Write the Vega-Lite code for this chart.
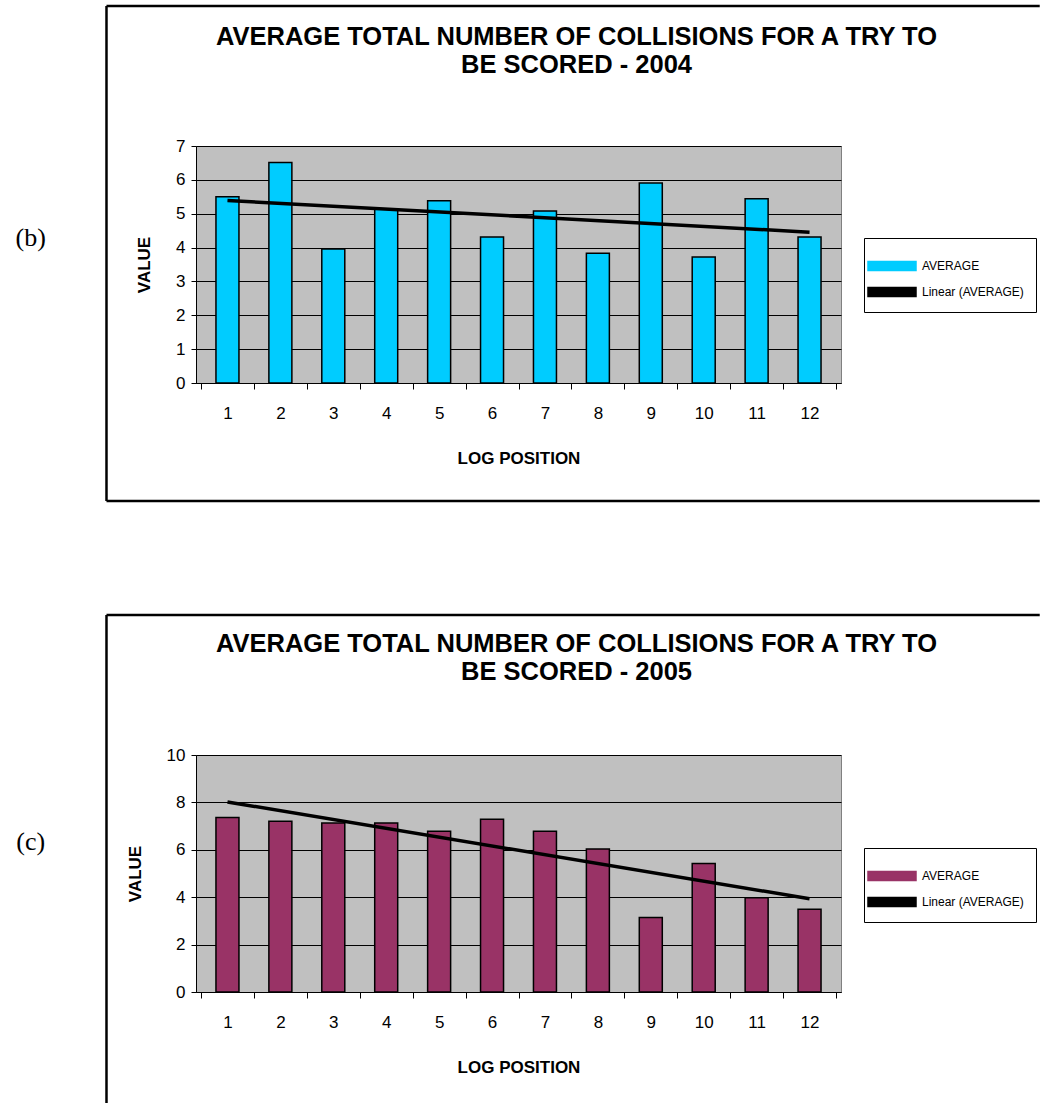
{
  "$schema": "https://vega.github.io/schema/vega-lite/v6.json",
  "padding": {"left": 15, "top": 4, "right": 0, "bottom": 0},
  "spacing": 110,
  "columns": 1,
  "resolve": {"scale": {"color": "independent"}},
  "config": {
    "font": "Liberation Sans",
    "view": {"fill": "#C0C0C0", "stroke": "#808080", "strokeWidth": 1},
    "axis": {"labelFont": "Liberation Sans", "labelColor": "black", "titleColor": "black", "titleFont": "Liberation Sans", "domainColor": "black", "tickColor": "black"},
    "legend": {"orient": "none", "title": null, "labelFont": "Liberation Sans", "labelFontSize": 12, "labelColor": "black", "strokeColor": "black", "padding": 12, "rowPadding": 2, "labelOffset": 14, "symbolSize": 900, "symbolType": "M-1.6,-0.3H1.6V0.3H-1.6Z", "symbolStrokeColor": "black", "symbolStrokeWidth": 1.5, "symbolOpacity": 1}
  },
  "datasets": {
    "d2004": [
      {"pos": 1, "value": 5.50, "series": "AVERAGE"},
      {"pos": 2, "value": 6.51, "series": "AVERAGE"},
      {"pos": 3, "value": 3.96, "series": "AVERAGE"},
      {"pos": 4, "value": 5.13, "series": "AVERAGE"},
      {"pos": 5, "value": 5.38, "series": "AVERAGE"},
      {"pos": 6, "value": 4.31, "series": "AVERAGE"},
      {"pos": 7, "value": 5.08, "series": "AVERAGE"},
      {"pos": 8, "value": 3.83, "series": "AVERAGE"},
      {"pos": 9, "value": 5.91, "series": "AVERAGE"},
      {"pos": 10, "value": 3.72, "series": "AVERAGE"},
      {"pos": 11, "value": 5.44, "series": "AVERAGE"},
      {"pos": 12, "value": 4.31, "series": "AVERAGE"}
    ],
    "d2005": [
      {"pos": 1, "value": 7.36, "series": "AVERAGE"},
      {"pos": 2, "value": 7.20, "series": "AVERAGE"},
      {"pos": 3, "value": 7.13, "series": "AVERAGE"},
      {"pos": 4, "value": 7.13, "series": "AVERAGE"},
      {"pos": 5, "value": 6.78, "series": "AVERAGE"},
      {"pos": 6, "value": 7.29, "series": "AVERAGE"},
      {"pos": 7, "value": 6.78, "series": "AVERAGE"},
      {"pos": 8, "value": 6.03, "series": "AVERAGE"},
      {"pos": 9, "value": 3.14, "series": "AVERAGE"},
      {"pos": 10, "value": 5.42, "series": "AVERAGE"},
      {"pos": 11, "value": 3.98, "series": "AVERAGE"},
      {"pos": 12, "value": 3.49, "series": "AVERAGE"}
    ]
  },
  "concat": [
    {
      "width": 645,
      "height": 237,
      "data": {"name": "d2004"},
      "title": {"text": ["AVERAGE TOTAL NUMBER OF COLLISIONS FOR A TRY TO", "BE SCORED - 2004"], "font": "Liberation Sans", "fontSize": 25.5, "fontWeight": "bold", "color": "black", "anchor": "middle", "dx": 58, "offset": -74, "lineHeight": 28},
      "resolve": {"axis": {"x": "independent", "y": "independent"}},
      "layer": [
        {
          "data": {"values": [{}]},
          "mark": {"type": "rule", "color": "black", "strokeWidth": 2.5, "clip": false},
          "encoding": {
            "x": {"datum": -1.286, "type": "quantitative", "scale": {"domain": [0.5, 12.5], "nice": false, "zero": false},
                  "axis": {"orient": "bottom", "values": [0.5, 1.5, 2.5, 3.5, 4.5, 5.5, 6.5, 7.5, 8.5, 9.5, 10.5, 11.5, 12.5], "labels": false, "ticks": true, "tickSize": 6, "domain": false, "grid": false, "title": null}},
            "y": {"datum": 11.135, "type": "quantitative", "axis": null},
            "y2": {"datum": -3.485}
          }
        },
        {
          "data": {"values": [{}]},
          "mark": {"type": "rule", "color": "black", "strokeWidth": 2.5, "clip": false},
          "encoding": {
            "x": {"datum": -1.286, "type": "quantitative", "axis": null},
            "x2": {"datum": 16.35},
            "y": {"datum": 11.135, "type": "quantitative", "axis": null}
          }
        },
        {
          "data": {"values": [{}]},
          "mark": {"type": "rule", "color": "black", "strokeWidth": 2.5, "clip": false},
          "encoding": {
            "x": {"datum": -1.286, "type": "quantitative", "axis": null},
            "x2": {"datum": 16.35},
            "y": {"datum": -3.485, "type": "quantitative", "axis": null}
          }
        },
        {
          "mark": {"type": "bar", "width": 23, "stroke": "black", "strokeWidth": 1.5},
          "encoding": {
            "x": {"field": "pos", "type": "quantitative",
                  "axis": {"orient": "bottom", "values": [1, 2, 3, 4, 5, 6, 7, 8, 9, 10, 11, 12], "ticks": false, "domain": true, "grid": false, "labelFontSize": 17, "labelPadding": 22, "title": "LOG POSITION", "titleFontSize": 17, "titleFontWeight": "bold", "titlePadding": 29}},
            "y": {"field": "value", "type": "quantitative", "scale": {"domain": [0, 7], "nice": false},
                  "axis": {"orient": "left", "values": [0, 1, 2, 3, 4, 5, 6, 7], "grid": true, "gridColor": "black", "gridWidth": 1, "gridOpacity": 1, "tickSize": 5, "labelFontSize": 17, "labelPadding": 6, "title": "VALUE", "titleFontSize": 17, "titleFontWeight": "bold", "titlePadding": 22}},
            "color": {"field": "series", "type": "nominal",
                      "scale": {"domain": ["AVERAGE", "Linear (AVERAGE)"], "range": ["#00CCFF", "black"]},
                      "legend": {"orient": "none", "legendX": 668, "legendY": 92}}
          }
        },
        {
          "transform": [{"regression": "value", "on": "pos", "extent": [1, 12]}],
          "mark": {"type": "line", "strokeWidth": 3.5},
          "encoding": {
            "x": {"field": "pos", "type": "quantitative", "axis": null},
            "y": {"field": "value", "type": "quantitative", "axis": null},
            "color": {"datum": "Linear (AVERAGE)"}
          }
        },
        {
          "data": {"values": [{"label": "(b)"}]},
          "mark": {"type": "text", "font": "Liberation Serif", "fontSize": 26, "align": "center", "baseline": "middle", "color": "black", "clip": false},
          "encoding": {
            "x": {"datum": -2.719, "type": "quantitative", "axis": null},
            "y": {"datum": 4.283, "type": "quantitative", "axis": null},
            "text": {"field": "label"}
          }
        }
      ]
    },
    {
      "width": 645,
      "height": 237,
      "data": {"name": "d2005"},
      "title": {"text": ["AVERAGE TOTAL NUMBER OF COLLISIONS FOR A TRY TO", "BE SCORED - 2005"], "font": "Liberation Sans", "fontSize": 25.5, "fontWeight": "bold", "color": "black", "anchor": "middle", "dx": 58, "offset": -72, "lineHeight": 28},
      "resolve": {"axis": {"x": "independent", "y": "independent"}},
      "layer": [
        {
          "data": {"values": [{}]},
          "mark": {"type": "rule", "color": "black", "strokeWidth": 2.5, "clip": false},
          "encoding": {
            "x": {"datum": -1.286, "type": "quantitative", "scale": {"domain": [0.5, 12.5], "nice": false, "zero": false},
                  "axis": {"orient": "bottom", "values": [0.5, 1.5, 2.5, 3.5, 4.5, 5.5, 6.5, 7.5, 8.5, 9.5, 10.5, 11.5, 12.5], "labels": false, "ticks": true, "tickSize": 6, "domain": false, "grid": false, "title": null}},
            "y": {"datum": 15.907, "type": "quantitative", "axis": null},
            "y2": {"datum": -4.75}
          }
        },
        {
          "data": {"values": [{}]},
          "mark": {"type": "rule", "color": "black", "strokeWidth": 2.5, "clip": false},
          "encoding": {
            "x": {"datum": -1.286, "type": "quantitative", "axis": null},
            "x2": {"datum": 16.35},
            "y": {"datum": 15.907, "type": "quantitative", "axis": null}
          }
        },
        {
          "mark": {"type": "bar", "width": 23, "stroke": "black", "strokeWidth": 1.5},
          "encoding": {
            "x": {"field": "pos", "type": "quantitative",
                  "axis": {"orient": "bottom", "values": [1, 2, 3, 4, 5, 6, 7, 8, 9, 10, 11, 12], "ticks": false, "domain": true, "grid": false, "labelFontSize": 17, "labelPadding": 22, "title": "LOG POSITION", "titleFontSize": 17, "titleFontWeight": "bold", "titlePadding": 29}},
            "y": {"field": "value", "type": "quantitative", "scale": {"domain": [0, 10], "nice": false},
                  "axis": {"orient": "left", "values": [0, 2, 4, 6, 8, 10], "grid": true, "gridColor": "black", "gridWidth": 1, "gridOpacity": 1, "tickSize": 5, "labelFontSize": 17, "labelPadding": 6, "title": "VALUE", "titleFontSize": 17, "titleFontWeight": "bold", "titlePadding": 22}},
            "color": {"field": "series", "type": "nominal",
                      "scale": {"domain": ["AVERAGE", "Linear (AVERAGE)"], "range": ["#993366", "black"]},
                      "legend": {"orient": "none", "legendX": 668, "legendY": 93}}
          }
        },
        {
          "transform": [{"regression": "value", "on": "pos", "extent": [1, 12]}],
          "mark": {"type": "line", "strokeWidth": 3.5},
          "encoding": {
            "x": {"field": "pos", "type": "quantitative", "axis": null},
            "y": {"field": "value", "type": "quantitative", "axis": null},
            "color": {"datum": "Linear (AVERAGE)"}
          }
        },
        {
          "data": {"values": [{"label": "(c)"}]},
          "mark": {"type": "text", "font": "Liberation Serif", "fontSize": 26, "align": "center", "baseline": "middle", "color": "black", "clip": false},
          "encoding": {
            "x": {"datum": -2.719, "type": "quantitative", "axis": null},
            "y": {"datum": 6.33, "type": "quantitative", "axis": null},
            "text": {"field": "label"}
          }
        }
      ]
    }
  ]
}
